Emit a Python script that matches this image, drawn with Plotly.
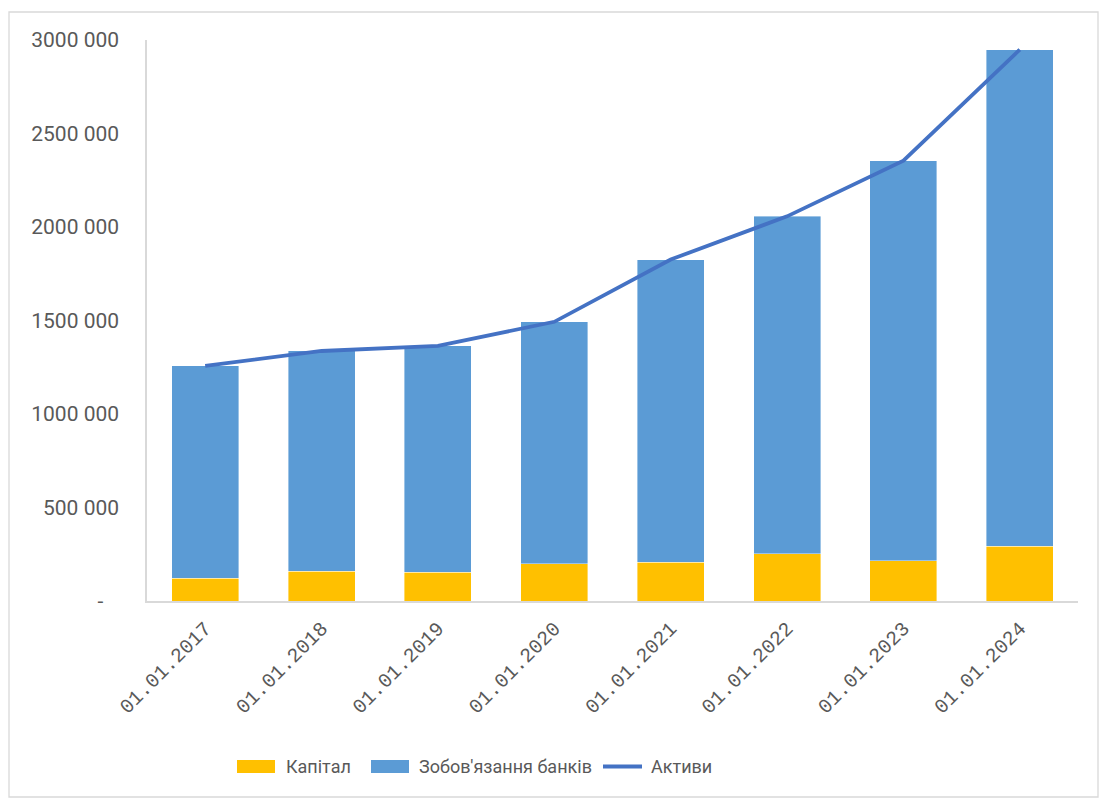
import plotly.graph_objects as go

# Банківська система: капітал, зобов'язання та активи (тис. грн)
dates = ["01.01.2017", "01.01.2018", "01.01.2019", "01.01.2020",
         "01.01.2021", "01.01.2022", "01.01.2023", "01.01.2024"]
capital = [121000, 159000, 153000, 200000, 208000, 253000, 214000, 294000]
liabilities = [1136000, 1178000, 1211000, 1293000, 1618000, 1804000, 2141000, 2655000]
assets = [1257000, 1337000, 1364000, 1493000, 1826000, 2057000, 2355000, 2949000]

y_ticks = [0, 500000, 1000000, 1500000, 2000000, 2500000, 3000000]
y_tick_text = ["-\u00a0\u00a0\u00a0", "500 000", "1000 000", "1500 000",
               "2000 000", "2500 000", "3000 000"]

names = ["Капітал", "Зобов'язання банків", "Активи"]
c_capital = "#FFC000"
c_liab = "#5B9BD5"
c_assets = "#4472C4"
text_color = "#595959"
axis_color = "#D9D9D9"

W, H = 1099, 798
L, R, T, B = 147, 21, 40, 197
PW, PH = W - L - R, H - T - B


def px(x):
    return (x - L) / PW


def py(y):
    return (H - B - y) / PH


fig = go.Figure()
fig.add_trace(go.Bar(x=dates, y=capital, name=names[0], marker_color=c_capital,
                     marker_line=dict(color="rgba(255,255,255,0.5)", width=0.8),
                     width=0.576, showlegend=False))
fig.add_trace(go.Bar(x=dates, y=liabilities, name=names[1], marker_color=c_liab,
                     marker_line=dict(color="rgba(255,255,255,0.5)", width=0.8),
                     width=0.576, showlegend=False))
fig.add_trace(go.Scatter(x=dates, y=assets, name=names[2], mode="lines",
                         line=dict(color=c_assets, width=3.8), showlegend=False))

shapes = [
    # outer chart border
    dict(type="rect", xref="paper", yref="paper", x0=px(9), x1=px(1098),
         y0=py(797), y1=py(12), line=dict(color="#D9D9D9", width=1.3),
         fillcolor="rgba(0,0,0,0)", layer="below"),
    # legend swatches
    dict(type="rect", xref="paper", yref="paper", x0=px(237), x1=px(275),
         y0=py(773), y1=py(760), line=dict(width=0), fillcolor=c_capital),
    dict(type="rect", xref="paper", yref="paper", x0=px(371), x1=px(409),
         y0=py(773), y1=py(760), line=dict(width=0), fillcolor=c_liab),
    dict(type="line", xref="paper", yref="paper", x0=px(603), x1=px(642),
         y0=py(766.5), y1=py(766.5), line=dict(color=c_assets, width=3.8)),
]

legend_font = dict(family="Roboto", size=18, color=text_color)
annotations = []
for name, xl in zip(names, [284, 417, 649]):
    annotations.append(dict(text=name, xref="paper", yref="paper", x=px(xl), y=py(766.5),
                            xanchor="left", yanchor="middle", showarrow=False,
                            font=legend_font))

fig.update_layout(
    width=W, height=H,
    margin=dict(l=L, r=R, t=T, b=B, pad=0),
    paper_bgcolor="white", plot_bgcolor="white",
    barmode="stack",
    shapes=shapes,
    annotations=annotations,
    showlegend=False,
    xaxis=dict(
        type="category",
        showline=True, linecolor=axis_color, linewidth=1.5,
        showgrid=False, ticks="", tickangle=-45,
        tickfont=dict(family="Liberation Mono", size=20, color=text_color),
        ticklabelstandoff=6,
    ),
    yaxis=dict(
        range=[0, 3000000],
        tickvals=y_ticks, ticktext=y_tick_text,
        showline=True, linecolor=axis_color, linewidth=1.5,
        showgrid=False, zeroline=False, ticks="",
        tickfont=dict(family="Roboto", size=21, color=text_color),
        ticklabelstandoff=22,
    ),
)

fig.write_html("out.html")
